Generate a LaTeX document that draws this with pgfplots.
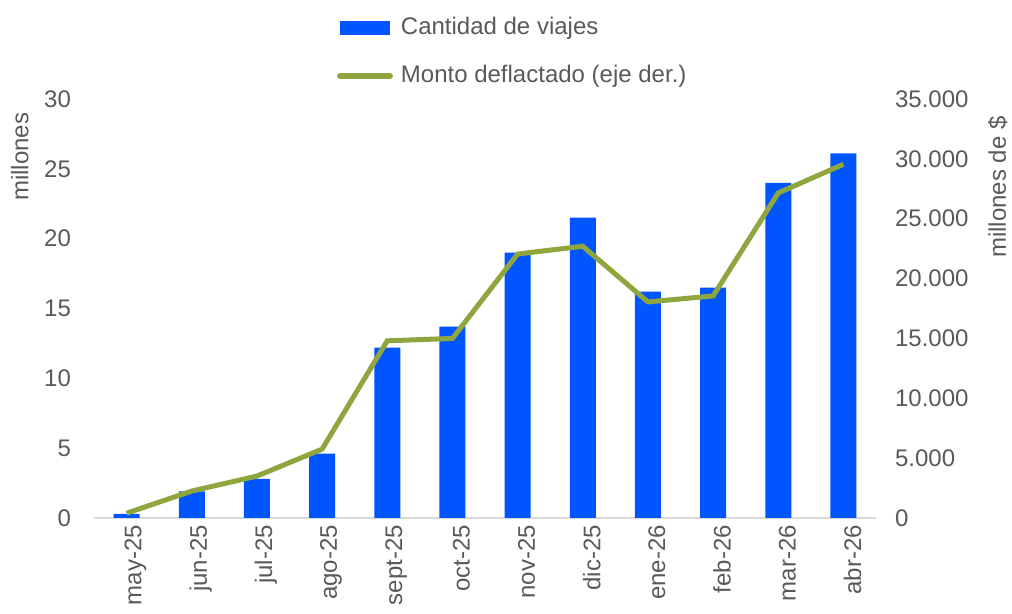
\documentclass[border=0pt]{standalone}
\usepackage{fontspec}
\setmainfont{Liberation Sans}
\usepackage{pgfplots}
\usepackage{pgfplotstable}
\pgfplotsset{compat=1.18}
\definecolor{barblue}{HTML}{0055FF}
\definecolor{lineg}{HTML}{8FA63F}
\definecolor{txtgray}{HTML}{595959}
\definecolor{axgray}{HTML}{D9D9D9}

\pgfplotstableread{
x viajes monto
0 0.3 400
1 1.9 2250
2 2.8 3500
3 4.6 5750
4 12.2 14800
5 13.7 15000
6 19.0 22050
7 21.5 22700
8 16.2 18050
9 16.5 18550
10 24.0 27150
11 26.1 29550
}\datos

\begin{document}
\begin{tikzpicture}[font=\fontsize{12}{14}\selectfont]
\path[use as bounding box] (-47pt,-48pt) rectangle (459pt,259pt);
\begin{axis}[
  at={(0,0)}, anchor=south west,
  scale only axis, width=391pt, height=209.5pt,
  xmin=-0.5, xmax=11.5, ymin=0, ymax=30,
  ytick={0,5,...,30},
  xtick={0,...,11},
  xticklabels={may-25,jun-25,jul-25,ago-25,sept-25,oct-25,nov-25,dic-25,ene-26,feb-26,mar-26,abr-26},
  xticklabel style={rotate=90, anchor=east, xshift=0pt, yshift=-4.5pt},
  yticklabel style={xshift=-8pt},
  tick label style={text=txtgray, font=\fontsize{12}{14}\selectfont},
  /pgf/number format/assume math mode=true,
  axis x line*=bottom, axis y line*=left,
  x axis line style={draw=axgray, line width=0.8pt, -},
  y axis line style={draw=none},
  major tick length=0pt, tick style={draw=none},
  ylabel={millones},
  ylabel style={text=txtgray, at={(ticklabel cs:0.862)}, yshift=1pt},
  legend cell align=left,
  legend style={draw=none, fill=none, at={(rel axis cs:0.3025,1.215)}, anchor=north west,
    row sep=9pt, nodes={text=txtgray, inner sep=2pt, text height=8.5pt, text depth=2.5pt},
    /tikz/every odd column/.append style={column sep=2pt}},
]
\addplot[ybar, bar width=13pt, fill=barblue, draw=none,
  legend image code/.code={\fill[barblue] (0pt,-3.5pt) rectangle (25pt,3.5pt);}]
  table[x=x, y=viajes] {\datos};
\addlegendentry{Cantidad de viajes}
\addlegendimage{legend image code/.code={\draw[lineg, line width=3pt, line cap=round] (0pt,0) -- (25pt,0);}}
\addlegendentry{Monto deflactado (eje der.)}
\end{axis}
\begin{axis}[
  at={(0,0)}, anchor=south west,
  scale only axis, width=391pt, height=209.5pt,
  xmin=-0.5, xmax=11.5, ymin=0, ymax=35000,
  ytick={0,5000,...,35000},
  scaled y ticks=false,
  /pgf/number format/1000 sep={.},
  yticklabel style={xshift=6pt},
  tick label style={text=txtgray, font=\fontsize{12}{14}\selectfont},
  /pgf/number format/assume math mode=true,
  axis x line=none, axis y line*=right,
  y axis line style={draw=none},
  major tick length=0pt, tick style={draw=none},
  ylabel={millones de \$},
  ylabel style={text=txtgray, at={(ticklabel cs:0.79)}, yshift=-3pt},
]
\addplot[lineg, line width=2.5pt] table[x=x, y=monto] {\datos};
\end{axis}
\end{tikzpicture}
\end{document}
